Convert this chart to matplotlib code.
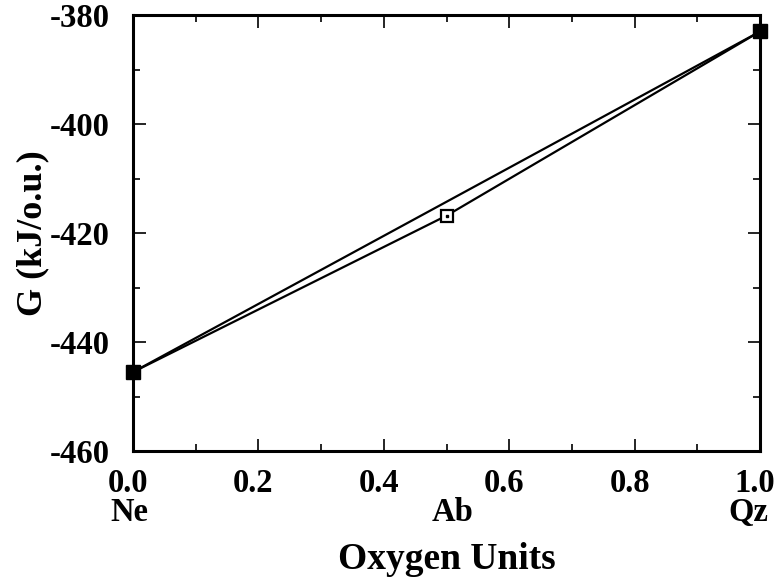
import numpy as np
import matplotlib.pyplot as plt
from matplotlib.ticker import MultipleLocator
from matplotlib.transforms import offset_copy

# Gibbs energy per oxygen unit along Ne - Ab - Qz join

phases = ['Ne', 'Ab', 'Qz']
x_ox = [0.0, 0.5, 1.0]
g_ou = [-445.5, -416.8, -383.0]

plt.rcParams['font.family'] = ['Liberation Serif', 'DejaVu Serif']
plt.rcParams['font.weight'] = 'bold'

fig = plt.figure(figsize=(7.77, 5.82), dpi=100)
ax = fig.add_axes([0.1712, 0.225, 0.807, 0.749])

# tie line Ne-Qz
ax.plot([x_ox[0], x_ox[2]], [g_ou[0], g_ou[2]], color='black', lw=1.6,
        clip_on=False, zorder=2)
# Ne-Ab-Qz
ax.plot(x_ox, g_ou, color='black', lw=1.6, clip_on=False, zorder=2)

# end members filled, albite open
ax.plot([x_ox[0], x_ox[2]], [g_ou[0], g_ou[2]], 's', color='black',
        ms=9.5, clip_on=False, zorder=4)
ax.plot(x_ox[1], g_ou[1], 's', mfc='white', mec='black', mew=1.6,
        ms=8, zorder=4)
ax.plot(x_ox[1], g_ou[1], 's', color='black', ms=2, zorder=5)

ax.set_xlim(0, 1)
ax.set_ylim(-460, -380)
ax.xaxis.set_major_locator(MultipleLocator(0.2))
ax.xaxis.set_minor_locator(MultipleLocator(0.1))
ax.yaxis.set_major_locator(MultipleLocator(20))
ax.yaxis.set_minor_locator(MultipleLocator(10))
ax.xaxis.set_major_formatter(plt.FuncFormatter(lambda v, p: f'{v:.1f}'))
ax.yaxis.set_major_formatter(plt.FuncFormatter(lambda v, p: f'{v:.0f}'))

ax.tick_params(which='both', direction='in', top=True, right=True,
               width=1.2, labelsize=23.5, pad=12)
ax.tick_params(which='major', length=9)
ax.tick_params(which='minor', length=5)
ax.tick_params(axis='y', pad=17)
for s in ax.spines.values():
    s.set_linewidth(2.2)

# numbers sit a little left of their ticks, as in the original
for t in ax.xaxis.get_major_ticks(6):
    t.label1.set_transform(offset_copy(t.label1.get_transform(), fig=fig,
                                       x=-5, y=0, units='dots'))

name_dx = [-4, 6, -12]
for name, xv, dx in zip(phases, x_ox, name_dx):
    tr = offset_copy(ax.get_xaxis_transform(), fig=fig, x=dx, y=0, units='dots')
    ax.text(xv, -0.14, name, transform=tr,
            ha='center', va='center', fontsize=23.5, fontweight='bold')

ax.set_xlabel('Oxygen Units', fontsize=27, fontweight='bold', labelpad=31)
ax.set_ylabel('G (kJ/o.u.)', fontsize=26, fontweight='bold', labelpad=0)

fig.savefig('out.png', dpi=100)
